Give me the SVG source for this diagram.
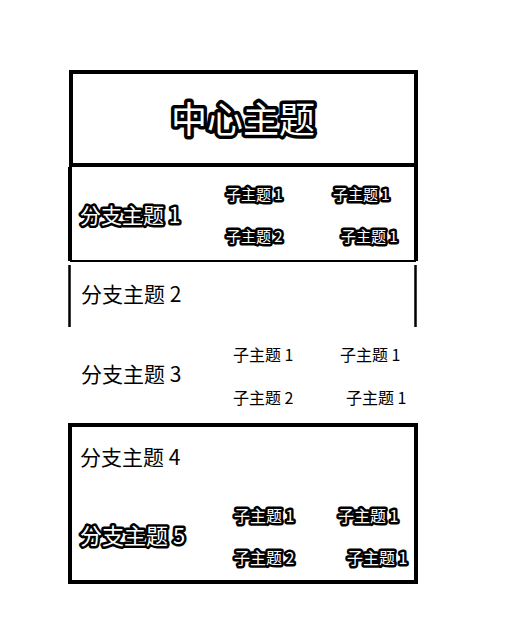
<svg xmlns="http://www.w3.org/2000/svg" width="526" height="628" viewBox="0 0 526 628">
<style>
text{font-family:"Noto Sans CJK SC","Liberation Sans",sans-serif;}
.halo{fill:#fff;stroke:#000;stroke-width:5;stroke-linejoin:round;paint-order:stroke;}
.plain{fill:#000;}
.frame{fill:none;stroke:#000;}
</style>
<rect width="526" height="628" fill="#fff"/>
<g id="borders">
<rect class="frame" x="71" y="72" width="345" height="93" stroke-width="4"/>
<path class="frame" d="M70 167 V261 M416 167 V261" stroke-width="4"/>
<path class="frame" d="M70 261 H416" stroke-width="2"/>
<path class="frame" d="M69.5 265 V327 M415.5 265 V327" stroke-width="2.5"/>
<rect class="frame" x="70" y="425" width="346" height="157" stroke-width="4"/>
</g>
<g id="center">
<text class="halo" x="243" y="133" font-size="36" text-anchor="middle" style="stroke-width:7">中心主题</text>
</g>
<g id="branch1">
<text class="halo" x="80" y="223" font-size="21">分支主题 1</text>
<text class="halo" x="226" y="200" font-size="15">子主题 1</text>
<text class="halo" x="333" y="200" font-size="15">子主题 1</text>
<text class="halo" x="226" y="242" font-size="15">子主题 2</text>
<text class="halo" x="341" y="242" font-size="15">子主题 1</text>
</g>
<g id="branch2">
<text class="plain" x="81" y="302" font-size="21">分支主题 2</text>
</g>
<g id="branch3">
<text class="plain" x="81" y="382" font-size="21">分支主题 3</text>
<text class="plain" x="233" y="361" font-size="16">子主题 1</text>
<text class="plain" x="340" y="361" font-size="16">子主题 1</text>
<text class="plain" x="233" y="404" font-size="16">子主题 2</text>
<text class="plain" x="346" y="404" font-size="16">子主题 1</text>
</g>
<g id="branch4">
<text class="plain" x="80" y="465" font-size="21">分支主题 4</text>
</g>
<g id="branch5">
<text class="halo" x="80" y="544" font-size="22">分支主题 5</text>
<text class="halo" x="234" y="522" font-size="16">子主题 1</text>
<text class="halo" x="338" y="522" font-size="16">子主题 1</text>
<text class="halo" x="234" y="564" font-size="16">子主题 2</text>
<text class="halo" x="347" y="564" font-size="16">子主题 1</text>
</g>
<g id="connectors"></g>
</svg>
